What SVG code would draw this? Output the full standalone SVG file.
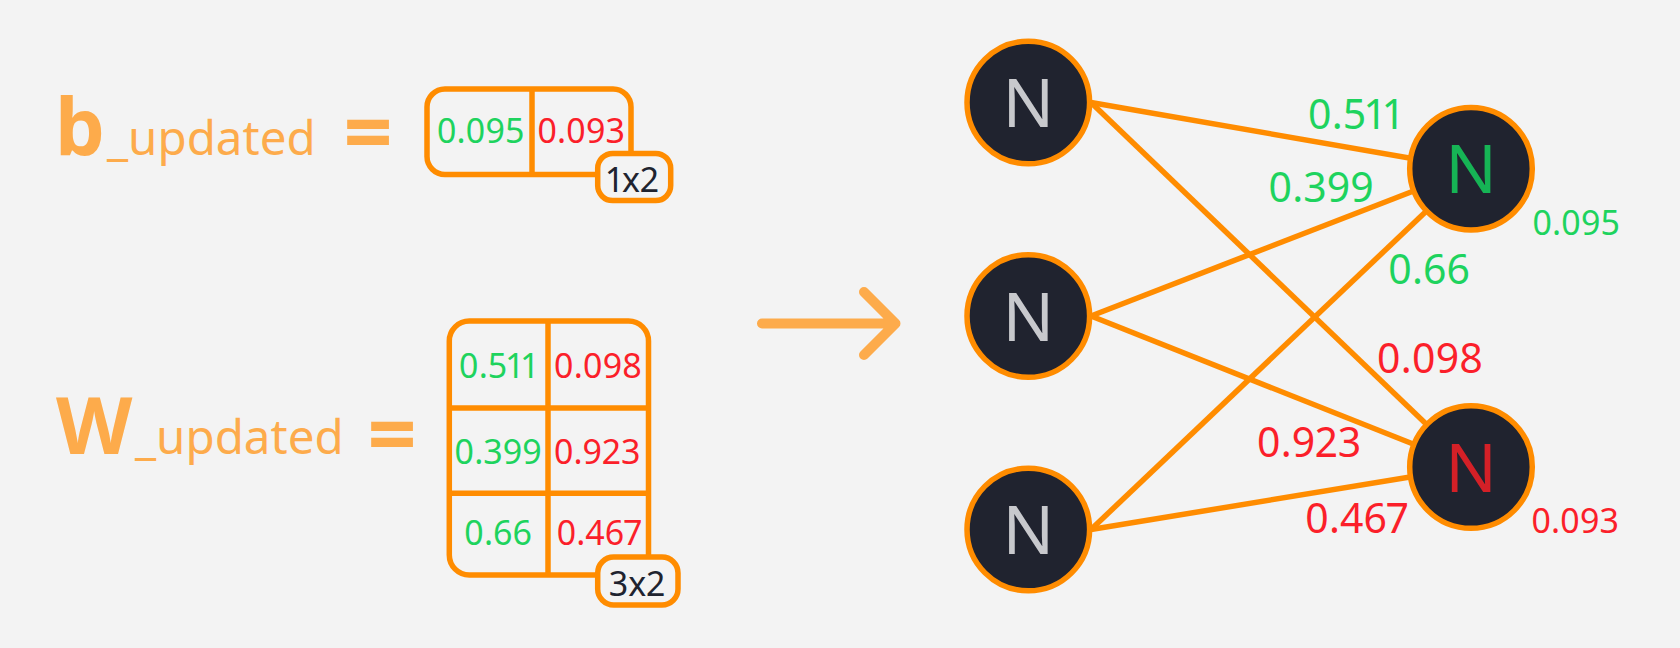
<svg xmlns="http://www.w3.org/2000/svg" width="1680" height="648" viewBox="0 0 1680 648">
<style>
text{font-family:"Noto Sans","Open Sans","Liberation Sans",sans-serif;font-variant-numeric:proportional-nums;}
.lbl{fill:#fdab4b;}
.big{font-weight:bold;font-size:79px;}
.sub{font-size:47.5px;}
.eq{font-weight:bold;font-size:86px;text-anchor:middle;}
.mat{fill:none;stroke:#ff8c00;stroke-width:5.5;}
.div{stroke:#ff8c00;stroke-width:5.5;}
.badge{fill:#f3f3f3;stroke:#ff8c00;stroke-width:5.5;}
.bt{font-size:34px;fill:#20232f;text-anchor:middle;}
.g{fill:#1ed35e;}
.r{fill:#fb1f2a;}
.mv{font-size:34px;text-anchor:middle;}
.ev{font-size:41px;text-anchor:middle;}
.edge{stroke:#ff8c00;stroke-width:5.5;fill:none;}
.node{fill:#20232f;stroke:#ff8c00;stroke-width:5.5;}
.nt{font-size:68px;text-anchor:middle;}
</style>
<rect width="1680" height="648" fill="#f3f3f3"/>

<g id="b-label">
<text class="lbl" y="155"><tspan class="big" x="55">b</tspan><tspan class="sub" x="107">_updated</tspan></text>
<text class="lbl eq" x="368" y="163">=</text>
</g>

<g id="b-matrix">
<rect class="mat" x="427" y="89" width="204" height="85.5" rx="18"/>
<line class="div" x1="532" y1="89" x2="532" y2="174.5"/>
<text class="mv g" x="480.5" y="143.3">0.095</text>
<text class="mv r" x="581" y="143.3">0.093</text>
<rect class="badge" x="597.7" y="153.4" width="73" height="47.2" rx="15"/>
<text class="bt" x="633" y="191.7">1x2</text>
</g>

<g id="w-label">
<text class="lbl" y="454"><tspan class="big" x="56">W</tspan><tspan class="sub" x="135">_updated</tspan></text>
<text class="lbl eq" x="392" y="465">=</text>
</g>

<g id="w-matrix">
<rect class="mat" x="449.3" y="321" width="199.2" height="254" rx="20"/>
<line class="div" x1="548" y1="321" x2="548" y2="575"/>
<line class="div" x1="449.3" y1="408" x2="648.5" y2="408"/>
<line class="div" x1="449.3" y1="493.3" x2="648.5" y2="493.3"/>
<text class="mv g" x="498" y="377.7">0.511</text>
<text class="mv r" x="598" y="377.7">0.098</text>
<text class="mv g" x="498" y="464">0.399</text>
<text class="mv r" x="597" y="464">0.923</text>
<text class="mv g" x="498" y="545">0.66</text>
<text class="mv r" x="599" y="545">0.467</text>
<rect class="badge" x="597.7" y="557" width="80.3" height="48" rx="16"/>
<text class="bt" x="637" y="596">3x2</text>
</g>

<g id="arrow">
<path d="M762 323.5 H895 M864 292 L895.5 323.5 L864 355" fill="none" stroke="#fdab4b" stroke-width="10" stroke-linecap="round" stroke-linejoin="round"/>
</g>

<g id="connectors">
<line class="edge" x1="1091" y1="102.5" x2="1471" y2="168.7"/>
<line class="edge" x1="1091" y1="102.5" x2="1471" y2="467"/>
<line class="edge" x1="1091" y1="316" x2="1471" y2="168.7"/>
<line class="edge" x1="1091" y1="316" x2="1471" y2="467"/>
<line class="edge" x1="1091" y1="529.5" x2="1471" y2="168.7"/>
<line class="edge" x1="1091" y1="529.5" x2="1471" y2="467"/>
<text class="ev g" x="1355" y="129.3">0.511</text>
<text class="ev g" x="1321" y="201.7">0.399</text>
<text class="ev g" x="1429" y="284">0.66</text>
<text class="ev r" x="1430" y="372.7">0.098</text>
<text class="ev r" x="1309" y="456.7">0.923</text>
<text class="ev r" x="1356.5" y="533.3">0.467</text>
</g>

<g id="in1">
<circle class="node" cx="1028.3" cy="102.5" r="61.3"/>
<text class="nt" x="1028.3" y="127" fill="#c8c9cd">N</text>
</g>
<g id="in2">
<circle class="node" cx="1028.3" cy="316" r="61.3"/>
<text class="nt" x="1028.3" y="340.5" fill="#c8c9cd">N</text>
</g>
<g id="in3">
<circle class="node" cx="1028.3" cy="529.5" r="61.3"/>
<text class="nt" x="1028.3" y="554" fill="#c8c9cd">N</text>
</g>
<g id="out1">
<circle class="node" cx="1471" cy="168.7" r="61.3"/>
<text class="nt" x="1471" y="193.2" fill="#16b455">N</text>
<text class="mv g" x="1576" y="235">0.095</text>
</g>
<g id="out2">
<circle class="node" cx="1471" cy="467" r="61.3"/>
<text class="nt" x="1471" y="491.5" fill="#d42027">N</text>
<text class="mv r" x="1575" y="532.7">0.093</text>
</g>
</svg>
